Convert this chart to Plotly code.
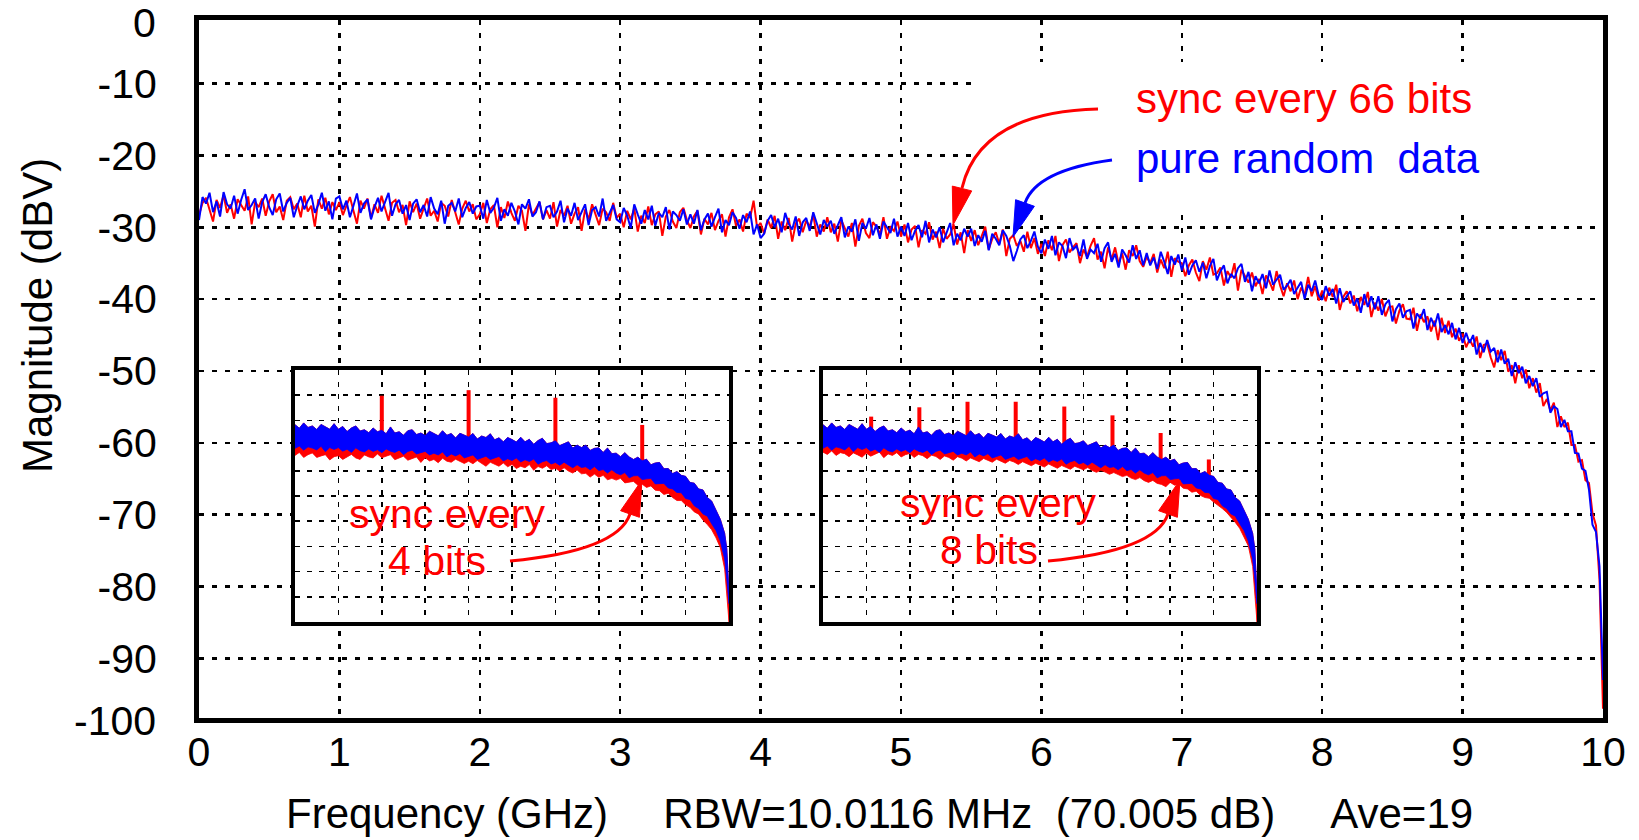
import plotly.graph_objects as go

# ---------------- data ----------------
# main spectrum, 0.025 GHz steps from 0 to 10 GHz
sync66_dbv = [
    -28.3, -26.6, -25.9, -27.6, -29.2, -26.2, -27.3, -25.5, -28.0, -26.8,
    -28.8, -26.1, -26.9, -27.7, -25.7, -29.6, -26.5, -27.2, -26.0, -28.4,
    -26.4, -25.4, -27.9, -27.1, -29.0, -26.3, -25.8, -27.5, -26.7, -28.6,
    -25.6, -27.8, -27.0, -29.9, -26.1, -27.4, -25.9, -28.2, -26.5, -27.6,
    -26.5, -28.3, -27.0, -25.8, -27.7, -29.5, -26.3, -27.4, -26.0, -28.7,
    -26.8, -28.0, -25.6, -27.3, -29.1, -26.6, -26.2, -27.9, -26.9, -29.7,
    -26.4, -27.9, -26.7, -28.8, -27.3, -26.0, -28.4, -27.7, -29.2, -26.6,
    -27.0, -28.5, -26.2, -28.1, -29.6, -27.4, -26.3, -27.8, -26.8, -28.9,
    -28.2, -26.6, -29.4, -27.5, -26.9, -30.0, -27.2, -28.7, -26.4, -28.0,
    -29.1, -27.0, -27.7, -30.5, -26.8, -28.3, -27.4, -26.5, -28.9, -27.6,
    -28.8, -26.5, -29.9, -27.6, -28.4, -27.0, -29.5, -28.1, -27.2, -30.5,
    -27.5, -28.9, -26.8, -28.2, -29.7, -27.4, -27.9, -29.1, -26.6, -28.7,
    -28.1, -30.0, -27.7, -28.9, -27.4, -30.6, -28.4, -29.4, -27.1, -29.7,
    -28.2, -27.8, -31.2, -28.5, -27.6, -29.2, -30.1, -27.9, -27.3, -29.0,
    -30.1, -28.5, -27.7, -31.0, -28.8, -29.6, -28.0, -30.4, -29.1, -28.2,
    -31.3, -28.6, -27.5, -29.8, -28.9, -30.6, -28.1, -28.7, -26.3, -30.0,
    -29.4, -30.9, -28.9, -30.1, -28.4, -31.6, -29.2, -30.4, -28.7, -32.0,
    -29.5, -28.8, -30.7, -29.1, -29.9, -28.2, -31.3, -29.6, -30.6, -28.6,
    -30.7, -29.5, -32.0, -29.0, -30.2, -31.3, -29.4, -32.7, -29.8, -28.8,
    -30.8, -31.5, -29.3, -29.9, -31.0, -28.6, -31.6, -30.0, -30.5, -29.2,
    -31.3, -29.6, -32.1, -30.3, -29.8, -32.8, -30.4, -30.9, -29.3, -31.7,
    -30.6, -32.9, -30.2, -31.6, -31.0, -29.6, -32.4, -30.7, -33.6, -30.4,
    -31.9, -30.4, -32.5, -31.2, -29.9, -33.1, -31.6, -30.7, -32.3, -30.3,
    -34.0, -31.6, -31.1, -32.6, -31.9, -33.4, -30.6, -32.9, -31.5, -33.7,
    -32.3, -34.0, -31.8, -33.2, -31.2, -34.7, -32.5, -31.7, -33.5, -32.8,
    -32.2, -35.0, -33.1, -34.1, -32.6, -31.5, -34.5, -33.4, -35.7, -32.8,
    -34.5, -32.8, -35.1, -33.6, -35.9, -33.2, -34.0, -32.5, -34.7, -35.5,
    -34.1, -35.0, -33.7, -36.3, -34.5, -35.7, -33.4, -36.9, -34.3, -34.8,
    -35.0, -36.8, -35.3, -34.5, -36.3, -37.5, -34.7, -35.9, -34.2, -36.6,
    -36.4, -35.6, -38.1, -36.1, -37.0, -35.0, -38.8, -35.9, -36.7, -37.7,
    -36.3, -38.2, -37.2, -39.3, -36.7, -37.6, -38.8, -36.1, -38.1, -39.6,
    -37.8, -38.9, -37.4, -40.0, -38.4, -39.4, -36.9, -39.6, -38.2, -40.2,
    -38.8, -40.3, -38.4, -39.7, -38.0, -41.5, -39.7, -38.9, -40.6, -39.5,
    -41.7, -39.7, -40.8, -39.0, -42.5, -40.5, -41.6, -40.0, -42.4, -41.1,
    -41.0, -43.4, -41.6, -40.7, -42.7, -42.8, -41.2, -44.4, -42.1, -43.2,
    -42.4, -44.5, -43.0, -45.7, -42.6, -44.7, -43.0, -45.3, -44.1, -45.8,
    -44.8, -46.7, -45.6, -46.6, -45.2, -48.2, -46.4, -46.2, -48.1, -49.5,
    -47.1, -48.5, -47.2, -50.1, -49.2, -51.7, -49.2, -51.0, -49.8, -52.4,
    -51.0, -53.0, -51.7, -54.9, -53.9, -55.5, -54.4, -57.8, -56.3, -57.8,
    -57.2, -60.3, -60.3, -62.6, -62.4, -65.2, -65.6, -69.8, -71.5, -79.0,
    -97.0,
]

random_dbv = [
    -29.0, -25.8, -26.7, -25.2, -27.9, -26.4, -28.5, -25.1, -26.8, -27.4,
    -25.6, -28.1, -26.2, -24.7, -27.6, -26.9, -26.0, -28.8, -26.5, -25.4,
    -27.2, -28.3, -26.1, -25.3, -27.8, -26.6, -25.9, -28.6, -27.0, -25.7,
    -27.5, -26.3, -25.5, -28.0, -26.8, -25.2, -27.7, -26.4, -28.9, -26.0,
    -25.7, -27.5, -26.3, -28.6, -27.0, -25.3, -28.0, -26.7, -26.1, -28.9,
    -27.2, -25.9, -27.8, -26.5, -25.2, -28.4, -26.8, -26.2, -28.1, -26.9,
    -29.0, -26.7, -26.1, -27.9, -26.9, -28.5, -25.8, -27.4, -28.2, -26.3,
    -29.5, -27.0, -26.6, -27.8, -26.0, -28.6, -27.3, -26.5, -28.1, -27.1,
    -27.0, -28.8, -26.2, -28.0, -27.3, -25.9, -29.1, -27.5, -28.4, -26.6,
    -27.8, -29.6, -26.8, -27.4, -26.1, -28.5, -27.9, -26.4, -28.9, -27.2,
    -27.0, -28.6, -27.8, -26.3, -29.3, -27.4, -28.4, -26.6, -29.0, -27.9,
    -26.8, -29.7, -27.6, -27.2, -28.5, -26.0, -29.1, -28.0, -26.9, -28.9,
    -29.3, -27.3, -28.4, -30.1, -26.8, -28.2, -29.5, -27.6, -28.9, -27.0,
    -29.8, -28.0, -28.6, -27.2, -30.3, -27.8, -28.3, -29.1, -27.5, -29.6,
    -28.2, -29.5, -27.6, -30.4, -28.9, -28.1, -29.9, -28.6, -27.4, -30.7,
    -29.0, -29.7, -27.9, -28.7, -30.2, -28.3, -29.3, -27.8, -31.0, -29.6,
    -31.5, -30.9, -29.1, -28.3, -30.0, -28.8, -30.7, -28.0, -29.5, -30.3,
    -28.5, -31.2, -29.3, -28.7, -30.5, -27.9, -29.6, -31.0, -29.0, -29.9,
    -29.1, -30.9, -29.7, -28.6, -31.4, -29.9, -30.6, -28.9, -31.9, -29.4,
    -30.2, -28.7, -31.1, -29.6, -31.6, -29.2, -30.0, -30.8, -28.8, -31.3,
    -29.9, -31.2, -29.4, -31.8, -30.5, -29.7, -31.4, -29.1, -32.1, -30.3,
    -31.4, -30.0, -32.1, -30.6, -29.4, -32.5, -30.9, -31.8, -30.2, -31.3,
    -30.2, -32.6, -31.1, -32.0, -30.5, -33.2, -30.9, -31.6, -32.5, -30.4,
    -31.2, -32.6, -34.7, -33.3, -31.7, -31.1, -32.9, -31.9, -30.6, -32.7,
    -33.6, -31.7, -33.0, -31.2, -33.9, -32.1, -32.6, -34.3, -31.5, -33.1,
    -32.6, -34.0, -31.7, -34.4, -33.1, -33.6, -32.3, -34.8, -32.9, -32.1,
    -34.8, -33.7, -35.6, -33.1, -33.9, -34.9, -32.5, -34.4, -33.2, -35.3,
    -33.6, -35.3, -34.2, -35.8, -33.4, -34.8, -36.5, -34.0, -35.2, -33.8,
    -36.0, -34.2, -36.6, -35.3, -34.6, -36.2, -34.9, -37.1, -35.4, -34.4,
    -37.4, -36.1, -35.3, -37.8, -36.5, -37.1, -35.7, -35.1, -37.6, -36.2,
    -38.9, -36.8, -37.8, -36.5, -38.5, -36.0, -38.0, -37.3, -36.6, -38.7,
    -38.1, -37.3, -39.3, -38.4, -37.6, -40.0, -38.0, -38.9, -37.4, -39.5,
    -40.1, -38.2, -39.5, -38.6, -40.6, -38.5, -40.4, -39.6, -38.9, -40.9,
    -39.9, -41.9, -39.3, -41.1, -39.6, -41.4, -39.6, -42.2, -40.7, -40.1,
    -43.1, -41.4, -40.6, -42.6, -41.7, -41.5, -44.1, -42.0, -42.7, -41.4,
    -44.3, -42.6, -43.8, -42.0, -44.6, -43.6, -44.9, -43.3, -45.6, -44.0,
    -46.1, -44.7, -46.1, -45.0, -47.7, -46.1, -47.4, -45.7, -47.3, -46.8,
    -48.8, -47.0, -49.0, -48.3, -50.7, -48.8, -50.3, -49.4, -51.7, -50.7,
    -52.1, -51.0, -53.6, -53.1, -52.9, -55.8, -54.9, -55.3, -57.8, -56.8,
    -58.4, -58.4, -61.4, -61.5, -63.6, -63.9, -66.5, -71.4, -72.4, -77.2,
    -93.0,
]

# inset spectra: the dense traces are shown by their envelopes (0.1 GHz steps)
inset_freq = [round(0.1 * i, 1) for i in range(100)] + [9.95, 9.98, 10.0]

random_upper = [
    -21.7, -23.1, -21.0, -22.8, -22.2, -23.6, -21.6, -22.7, -23.5, -21.3,
    -23.5, -22.4, -24.4, -23.0, -22.2, -24.2, -23.7, -24.9, -23.0, -24.5,
    -23.9, -25.3, -22.6, -25.0, -24.5, -25.9, -24.1, -23.7, -25.6, -25.0,
    -26.0, -24.3, -25.3, -26.1, -24.1, -25.9, -25.2, -27.0, -25.1, -25.8,
    -26.6, -25.2, -27.4, -26.2, -26.8, -25.3, -27.7, -26.9, -28.5, -26.8,
    -27.6, -28.6, -26.7, -28.5, -27.5, -29.5, -28.0, -27.1, -29.2, -28.9,
    -28.1, -30.0, -29.3, -28.5, -31.0, -29.8, -30.8, -29.8, -31.9, -31.1,
    -30.9, -32.7, -31.0, -33.2, -33.0, -34.4, -32.8, -34.5, -35.5, -34.6,
    -36.0, -35.4, -37.6, -36.9, -36.7, -39.2, -39.1, -41.1, -40.3, -41.8,
    -42.2, -44.6, -44.9, -47.2, -47.6, -50.6, -52.0, -55.6, -59.2, -64.8,
    -71.0, -78.0, -88.7,
]
random_lower = [
    -31.1, -30.2, -31.8, -30.5, -31.0, -31.7, -30.3, -32.4, -30.8, -31.5,
    -30.8, -32.2, -31.4, -32.7, -30.9, -32.0, -32.5, -31.3, -32.3, -31.6,
    -32.8, -31.3, -32.2, -32.7, -31.8, -33.6, -32.3, -31.8, -33.3, -32.8,
    -32.3, -33.7, -33.0, -33.7, -32.5, -34.5, -33.3, -34.1, -33.2, -34.9,
    -34.2, -33.7, -35.5, -34.8, -34.2, -35.5, -34.9, -34.3, -36.1, -35.2,
    -35.9, -34.9, -36.5, -35.6, -36.3, -35.3, -37.4, -36.4, -35.9, -37.3,
    -36.7, -37.8, -36.6, -37.8, -38.8, -37.6, -38.7, -38.4, -39.6, -38.3,
    -39.9, -39.5, -40.9, -39.6, -40.9, -41.6, -40.7, -42.8, -42.0, -41.9,
    -43.5, -43.2, -43.0, -45.2, -45.1, -45.0, -46.8, -47.2, -48.6, -48.7,
    -51.0, -51.4, -53.9, -55.0, -57.1, -58.0, -61.0, -63.7, -67.9, -75.0,
    -83.0, -88.0, -92.7,
]
sync4_lower = [
    -33.9, -32.7, -34.7, -33.6, -32.9, -34.7, -34.1, -33.6, -35.7, -34.4,
    -34.0, -35.5, -34.5, -33.5, -34.9, -35.5, -33.7, -34.5, -34.9, -33.3,
    -34.8, -34.2, -33.6, -35.6, -34.8, -34.2, -35.8, -35.2, -34.5, -36.7,
    -34.8, -36.1, -35.5, -36.8, -35.0, -36.2, -36.6, -35.4, -36.2, -37.1,
    -36.2, -37.2, -35.9, -37.2, -38.2, -36.6, -37.5, -38.2, -36.9, -38.4,
    -37.5, -39.1, -38.2, -38.8, -37.5, -39.8, -38.3, -39.0, -38.0, -39.5,
    -39.0, -40.1, -38.8, -40.1, -40.9, -39.7, -41.2, -41.0, -42.5, -41.3,
    -42.6, -41.8, -43.6, -43.0, -43.7, -43.0, -44.8, -44.5, -44.2, -45.7,
    -45.3, -46.6, -46.0, -47.7, -47.9, -49.4, -48.9, -50.6, -51.8, -51.8,
    -53.5, -54.5, -56.3, -57.2, -59.6, -61.3, -63.4, -66.6, -70.5, -79.0,
    -88.0, -94.0, -100.0,
]
sync8_lower = [
    -32.6, -33.5, -32.1, -33.9, -32.8, -33.2, -34.4, -32.9, -33.7, -34.6,
    -33.0, -34.2, -33.4, -32.6, -34.8, -33.3, -33.9, -32.8, -34.5, -33.6,
    -33.1, -34.7, -33.5, -34.0, -35.2, -33.8, -34.3, -35.5, -34.1, -34.7,
    -35.8, -34.4, -35.0, -36.1, -34.9, -35.5, -36.4, -35.1, -35.9, -36.6,
    -35.4, -36.3, -37.0, -35.9, -36.5, -37.5, -36.4, -37.2, -38.0, -37.0,
    -37.6, -38.5, -37.3, -38.2, -39.0, -37.9, -38.6, -39.4, -38.2, -39.0,
    -39.6, -38.7, -39.9, -40.6, -39.8, -40.5, -41.4, -40.7, -41.6, -42.3,
    -41.8, -42.9, -43.5, -42.7, -43.9, -44.6, -43.8, -45.0, -45.4, -46.3,
    -44.6, -45.7, -45.3, -46.9, -47.2, -48.5, -48.1, -49.8, -50.6, -50.9,
    -52.4, -53.6, -55.0, -56.5, -58.4, -60.5, -62.8, -66.0, -69.8, -78.0,
    -88.5, -94.0, -100.0,
]

sync4_spike_f = [2.0, 4.0, 6.0, 8.0]
sync4_spike_top = [-10.2, -8.0, -11.0, -21.8]
sync4_spike_base = [-28.0, -29.0, -31.0, -36.0]

sync8_spike_f = [1.11, 2.22, 3.33, 4.44, 5.56, 6.67, 7.78, 8.89]
sync8_spike_top = [-18.5, -14.8, -12.6, -12.6, -14.5, -18.0, -25.0, -35.5]
sync8_spike_base = [-28.0, -28.0, -29.0, -30.0, -31.0, -33.0, -36.0, -42.0]

x_ticks = list(range(0, 11))
y_ticks = [-10, -20, -30, -40, -50, -60, -70, -80, -90]

# ---------------- layout geometry ----------------
W, H = 1639, 840
ML, MR, MT, MB = 199, 36, 20, 122
PW, PH = W - ML - MR, H - MT - MB
Y_RANGE = [-98.3, -1.15]
X_RANGE = [0, 10]
RED, BLUE = "#ff0000", "#0000ff"
FONT = "Liberation Sans, Arial, Helvetica, sans-serif"


def px2x(px):
    return X_RANGE[0] + (px - ML) / PW * (X_RANGE[1] - X_RANGE[0])


def px2y(py):
    return Y_RANGE[1] - (py - MT) / PH * (Y_RANGE[1] - Y_RANGE[0])


def P(px, py):
    return f"{px2x(px):.4f},{px2y(py):.4f}"


def xp(px):
    return (px - ML) / PW


def yp(py):
    return (H - MB - py) / PH


def steps(values, step):
    return [round(step * i, 3) for i in range(len(values))]


fig = go.Figure()

fig.add_trace(go.Scatter(x=steps(sync66_dbv, 0.025), y=sync66_dbv, mode="lines",
                         line=dict(color=RED, width=2), xaxis="x", yaxis="y",
                         name="sync every 66 bits"))
fig.add_trace(go.Scatter(x=steps(random_dbv, 0.025), y=random_dbv, mode="lines",
                         line=dict(color=BLUE, width=2), xaxis="x", yaxis="y",
                         name="pure random data"))


def band(lower, upper):
    n = min(len(lower), len(upper), len(inset_freq))
    xs = inset_freq[:n] + inset_freq[:n][::-1]
    ys = lower[:n] + upper[:n][::-1]
    return xs, ys


for xa, ya, red_low, sf, st, sb in [
    ("x2", "y2", sync4_lower, sync4_spike_f, sync4_spike_top, sync4_spike_base),
    ("x3", "y3", sync8_lower, sync8_spike_f, sync8_spike_top, sync8_spike_base),
]:
    bx, by = band(red_low, random_upper)
    fig.add_trace(go.Scatter(x=bx, y=by, fill="toself", fillcolor=RED, mode="lines",
                             line=dict(color=RED, width=0.8), xaxis=xa, yaxis=ya))
    xs, ys = [], []
    for f, t, b in zip(sf, st, sb):
        xs += [f, f, None]
        ys += [b, t, None]
    fig.add_trace(go.Scatter(x=xs, y=ys, mode="lines", line=dict(color=RED, width=4),
                             connectgaps=False, xaxis=xa, yaxis=ya))
    bx, by = band(random_lower, random_upper)
    fig.add_trace(go.Scatter(x=bx, y=by, fill="toself", fillcolor=BLUE, mode="lines",
                             line=dict(color=BLUE, width=0.8), xaxis=xa, yaxis=ya))

grid_main = dict(showgrid=True, gridcolor="black", gridwidth=2.5, griddash="5px,8px",
                 showline=True, linecolor="black", linewidth=5, mirror=True,
                 zeroline=False, ticks="", fixedrange=True)
grid_inset = dict(showgrid=True, gridcolor="black", gridwidth=1.5, griddash="5px,7px",
                  showline=True, linecolor="black", linewidth=4, mirror=True,
                  zeroline=False, ticks="", showticklabels=False, fixedrange=True)

inset1_x = [xp(295), xp(729)]
inset2_x = [xp(823), xp(1257)]
inset_y = [yp(622), yp(370)]

fig.update_layout(
    width=W, height=H,
    margin=dict(l=ML, r=MR, t=MT, b=MB, pad=0),
    paper_bgcolor="white", plot_bgcolor="white",
    showlegend=False,
    font=dict(family=FONT, color="black", size=41),
    xaxis=dict(domain=[0, 1], range=X_RANGE, tickvals=x_ticks,
               ticktext=[str(v) for v in x_ticks], ticklabelstandoff=-6,
               tickfont=dict(size=41), anchor="y", **grid_main),
    yaxis=dict(domain=[0, 1], range=Y_RANGE, tickvals=y_ticks,
               ticktext=[str(v) for v in y_ticks], ticklabelstandoff=29,
               tickfont=dict(size=41), anchor="x", **grid_main),
    xaxis2=dict(domain=inset1_x, range=[0, 10], dtick=1, tick0=0, anchor="y2", **grid_inset),
    yaxis2=dict(domain=inset_y, range=[-100, 0], dtick=10, tick0=0, anchor="x2", **grid_inset),
    xaxis3=dict(domain=inset2_x, range=[0, 10], dtick=1, tick0=0, anchor="y3", **grid_inset),
    yaxis3=dict(domain=inset_y, range=[-100, 0], dtick=10, tick0=0, anchor="x3", **grid_inset),
)

shapes = []
for x0, x1, y0, y1 in [(292, 732, 367, 625), (820, 1260, 367, 625), (977, 1601, 62, 212)]:
    shapes.append(dict(type="rect", xref="x", yref="y", layer="between",
                       x0=px2x(x0), x1=px2x(x1), y0=px2y(y1), y1=px2y(y0),
                       fillcolor="white", line=dict(width=0)))

arrows = [
    ((1098, 109), (980, 112), (962, 188), (953, 225), (952.3, 186.1), (971.7, 190.9), RED),
    ((1112, 160), (1036.6, 170.2), (1025, 203), (1013, 237), (1015.6, 199.7), (1034.4, 206.3), BLUE),
    ((510, 561), (617.4, 551), (630, 514), (642, 480), (639.4, 517.3), (620.6, 510.7), RED),
    ((1048, 561), (1155.4, 551), (1168, 514), (1180, 480), (1177.4, 517.3), (1158.6, 510.7), RED),
]
for s, c, e, tip, c1, c2, col in arrows:
    shapes.append(dict(type="path", xref="x", yref="y", layer="above",
                       path=f"M {P(*s)} Q {P(*c)} {P(*e)}",
                       line=dict(color=col, width=3)))
    shapes.append(dict(type="path", xref="x", yref="y", layer="above",
                       path=f"M {P(*tip)} L {P(*c1)} L {P(*c2)} Z",
                       fillcolor=col, line=dict(color=col, width=1)))
fig.update_layout(shapes=shapes)

ann = []


def text(t, x, y, xanchor="center", color="black", size=42, angle=0):
    ann.append(dict(text=t, x=x, y=y, xref="paper", yref="paper", xanchor=xanchor,
                    yanchor="middle", showarrow=False, textangle=angle, borderpad=0,
                    font=dict(family=FONT, size=size, color=color)))


text("sync every 66 bits", xp(1135), yp(98), xanchor="left", color=RED)
text("pure random\u00a0\u00a0data", xp(1135), yp(158), xanchor="left", color=BLUE)
text("sync every", xp(447), yp(514), color=RED, size=41)
text("4 bits", xp(437), yp(561), color=RED, size=41)
text("sync every", xp(998), yp(503), color=RED, size=41)
text("8 bits", xp(989), yp(550), color=RED, size=41)
text("Frequency (GHz)\u00a0\u00a0\u00a0\u00a0\u2009RBW=10.0116 MHz\u00a0\u00a0(70.005 dB)"
     "\u00a0\u00a0\u00a0\u00a0\u2009Ave=19", xp(879), yp(813))
text("Magnitude (dBV)", xp(37), yp(316), angle=-90)
text("0", xp(157), yp(23), xanchor="right", size=41)
text("-100", xp(157), yp(721), xanchor="right", size=41)
fig.update_layout(annotations=ann)

fig.write_html("out.html",
               config={"displayModeBar": False, "staticPlot": True},
               post_script="document.body.style.margin='0px';"
                           "document.body.style.overflow='hidden';")
